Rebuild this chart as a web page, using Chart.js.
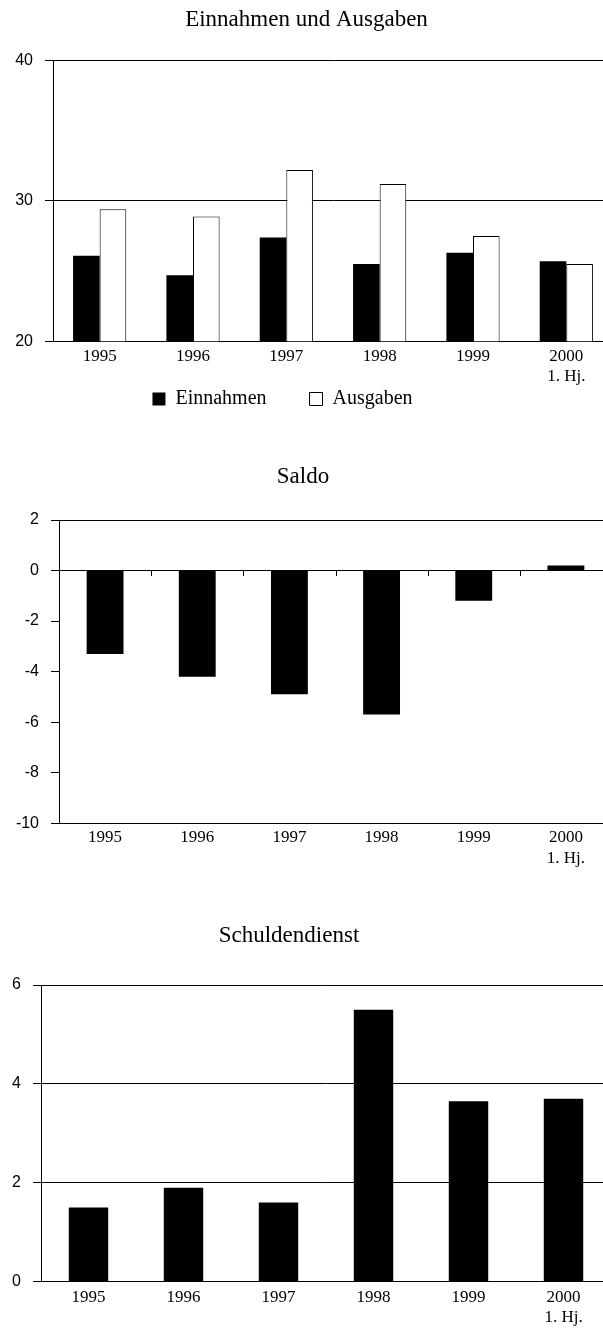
<!DOCTYPE html>
<html>
<head>
<meta charset="utf-8">
<script src="https://cdn.jsdelivr.net/npm/chart.js@4.4.1/dist/chart.umd.min.js"></script>
<style>
html, body { margin: 0; padding: 0; background: #fff; overflow: hidden; width: 603px; height: 1328px; }
canvas { position: absolute; left: 0; }
</style>
</head>
<body>
<canvas id="c1" width="613" height="465" style="top:0px"></canvas>
<canvas id="c2" width="612" height="416" style="top:457px"></canvas>
<canvas id="c3" width="611" height="418" style="top:916px"></canvas>
<script>
// ---- data ----
const categories = ['1995', '1996', '1997', '1998', '1999', ['2000', '1. Hj.']];
const einnahmen = [26.1, 24.7, 27.4, 25.5, 26.3, 25.7];
const ausgaben = [29.4, 28.9, 32.2, 31.2, 27.5, 25.5];
const saldo = [-3.3, -4.2, -4.9, -5.7, -1.2, 0.2];
const schuldendienst = [1.5, 1.9, 1.6, 5.5, 3.65, 3.7];
const titles = ['Einnahmen und Ausgaben', 'Saldo', 'Schuldendienst'];
const seriesNames = ['Einnahmen', 'Ausgaben'];
const yRange1 = { min: 20, max: 40, step: 10 };
const yRange2 = { min: -10, max: 2, step: 2 };
const yRange3 = { min: 0, max: 6, step: 2 };
const saldoGridValues = [2, 0];

// ---- style ----
Chart.defaults.color = '#000';
const serif = 'Liberation Serif';
const sans = 'Liberation Sans';

// moves title / legend boxes after layout
const boxShift = {
  id: 'boxShift',
  afterLayout(chart, args, opts) {
    const move = (box, o) => {
      if (!box || !o) return;
      box.left += o.dx || 0; box.right += o.dx || 0;
      box.top += o.dy || 0; box.bottom += o.dy || 0;
    };
    move(chart.legend, opts.legend);
    move(chart.titleBlock, opts.title);
  }
};

// small marks on the zero line at category boundaries
const zeroTicks = {
  id: 'zeroTicks',
  afterDatasetsDraw(chart, args, opts) {
    if (!opts || !opts.enabled) return;
    const xs = chart.scales.x, ys = chart.scales.y, ctx = chart.ctx;
    const y0 = Math.round(ys.getPixelForValue(0));
    ctx.save();
    ctx.strokeStyle = '#000';
    ctx.lineWidth = 1;
    for (let i = 1; i < xs.ticks.length; i++) {
      const bx = Math.round((xs.getPixelForValue(i - 1) + xs.getPixelForValue(i)) / 2) + 0.5;
      ctx.beginPath();
      ctx.moveTo(bx, y0 - 1);
      ctx.lineTo(bx, y0 + 5);
      ctx.stroke();
    }
    ctx.restore();
  }
};

function makeOptions(cfg) {
  return {
    responsive: false,
    animation: false,
    layout: { padding: 0 },
    plugins: {
      title: {
        display: true,
        text: cfg.title,
        color: '#000',
        font: { family: serif, size: 23, weight: 'normal' },
        padding: { top: 6.5, bottom: cfg.titleBottom }
      },
      legend: cfg.legend || { display: false },
      tooltip: { enabled: false },
      boxShift: cfg.shift || {},
      zeroTicks: { enabled: !!cfg.zeroTicks }
    },
    scales: {
      x: {
        type: 'category',
        offset: true,
        grid: { display: false, drawTicks: false },
        border: { display: true, color: '#000', width: 1 },
        ticks: {
          color: '#000',
          padding: cfg.xPad,
          autoSkip: false,
          maxRotation: 0,
          font: { family: serif, size: 17 }
        }
      },
      y: {
        min: cfg.y.min,
        max: cfg.y.max,
        afterFit: (s) => { s.width = cfg.axisX; },
        grid: {
          color: cfg.gridColor || '#000',
          tickColor: '#000',
          tickLength: 8,
          lineWidth: 1
        },
        border: { display: true, color: '#000', width: 1 },
        ticks: {
          stepSize: cfg.y.step,
          padding: 12,
          color: '#000',
          font: { family: sans, size: 16 }
        }
      }
    }
  };
}

// Chart 1: Einnahmen und Ausgaben
new Chart(document.getElementById('c1'), {
  type: 'bar',
  data: {
    labels: categories,
    datasets: [
      { label: seriesNames[0], data: einnahmen, backgroundColor: '#000', borderColor: '#000', borderWidth: 0,
        categoryPercentage: 0.57, barPercentage: 1 },
      { label: seriesNames[1], data: ausgaben, backgroundColor: '#fff', borderColor: '#000', borderWidth: 1,
        categoryPercentage: 0.57, barPercentage: 1 }
    ]
  },
  options: makeOptions({
    title: titles[0], titleBottom: 26.6, xPad: 5, axisX: 53, y: yRange1,
    legend: {
      display: true,
      position: 'bottom',
      labels: { boxWidth: 13, boxHeight: 13, padding: 43, color: '#000', font: { family: serif, size: 20 } }
    },
    shift: { legend: { dx: -24, dy: -46 } }
  }),
  plugins: [boxShift, zeroTicks]
});

// Chart 2: Saldo
new Chart(document.getElementById('c2'), {
  type: 'bar',
  data: {
    labels: categories,
    datasets: [
      { label: titles[1], data: saldo, backgroundColor: '#000', borderWidth: 0,
        categoryPercentage: 1, barPercentage: 0.4 }
    ]
  },
  options: makeOptions({
    title: titles[1], titleBottom: 28.9, xPad: 4.5, axisX: 59, y: yRange2,
    gridColor: (ctx) => (ctx.tick && saldoGridValues.includes(ctx.tick.value)) ? '#000' : 'rgba(0,0,0,0)',
    zeroTicks: true,
    shift: { title: { dx: -3 } }
  }),
  plugins: [boxShift, zeroTicks]
});

// Chart 3: Schuldendienst
new Chart(document.getElementById('c3'), {
  type: 'bar',
  data: {
    labels: categories,
    datasets: [
      { label: titles[2], data: schuldendienst, backgroundColor: '#000', borderWidth: 0,
        categoryPercentage: 1, barPercentage: 0.415 }
    ]
  },
  options: makeOptions({
    title: titles[2], titleBottom: 34.9, xPad: 5.8, axisX: 41, y: yRange3,
    shift: { title: { dx: -16.5 } }
  }),
  plugins: [boxShift, zeroTicks]
});
</script>
</body>
</html>
